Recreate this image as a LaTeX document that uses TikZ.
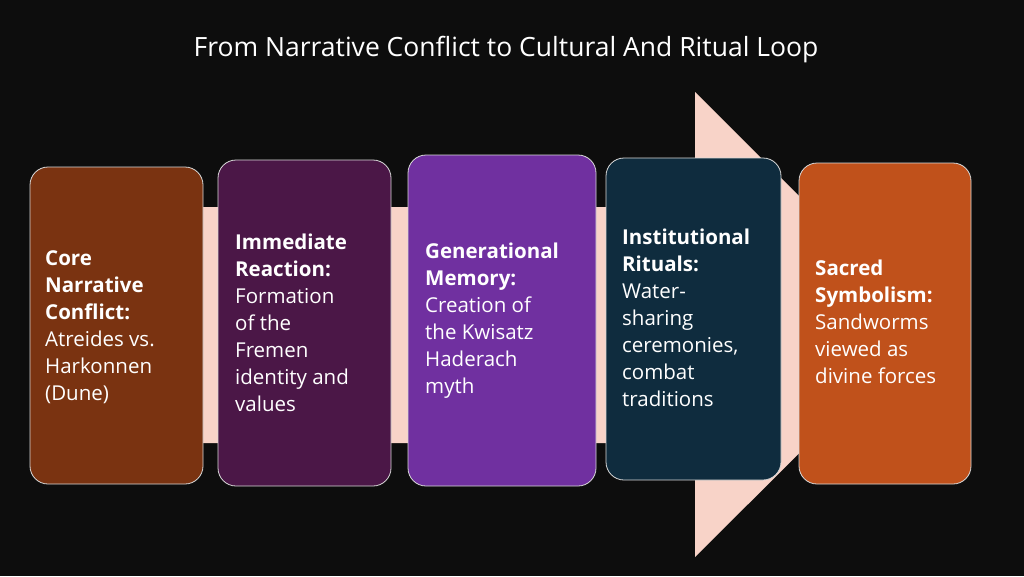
\documentclass[tikz,border=0pt]{standalone}
\usepackage{fontspec}
\setmainfont{Open Sans}
\begin{document}
\begin{tikzpicture}[x=1pt,y=-1pt,
  box/.style={draw=white!85!black,line width=0.8pt,rounded corners=18pt},
  txt/.style={anchor=west,align=left,text=white,font=\fontsize{20.5}{27}\selectfont,inner sep=0pt}]
\definecolor{bg}{HTML}{0D0D0D}
\definecolor{pinkarrow}{HTML}{F8D3C8}
\definecolor{cA}{HTML}{7A3311}
\definecolor{cB}{HTML}{4B1747}
\definecolor{cC}{HTML}{7030A0}
\definecolor{cD}{HTML}{0F2C3E}
\definecolor{cE}{HTML}{C0511B}
\fill[bg] (0,0) rectangle (1024,576);
\useasboundingbox (0,0) rectangle (1024,576);
\node[text=white,font=\fontsize{26.5}{30}\selectfont] (title) at (506,50) {From Narrative Conflict to Cultural And Ritual Loop};
\fill[pinkarrow] (190,207) -- (695,207) -- (695,92) -- (928,325) -- (695,557) -- (695,443) -- (190,443) -- cycle;
\draw[box,fill=cA] (30,167) rectangle (203,484);
\draw[box,fill=cB] (218,160) rectangle (391,486);
\draw[box,fill=cC] (408,155) rectangle (596,486);
\draw[box,fill=cD] (606,158) rectangle (781,480);
\draw[box,fill=cE] (799,163) rectangle (971,484);
\node[txt] (t1) at (45,327) {\textbf{Core}\\\textbf{Narrative}\\\textbf{Conflict:}\\Atreides vs.\\Harkonnen\\(Dune)};
\node[txt] (t2) at (235,323) {\textbf{Immediate}\\\textbf{Reaction:}\\Formation\\of the\\Fremen\\identity and\\values};
\node[txt] (t3) at (425,321) {\textbf{Generational}\\\textbf{Memory:}\\Creation of\\the Kwisatz\\Haderach\\myth};
\node[txt] (t4) at (622,318) {\textbf{Institutional}\\\textbf{Rituals:}\\Water-\\sharing\\ceremonies,\\combat\\traditions};
\node[txt] (t5) at (815,322) {\textbf{Sacred}\\\textbf{Symbolism:}\\Sandworms\\viewed as\\divine forces};
\end{tikzpicture}
\end{document}
